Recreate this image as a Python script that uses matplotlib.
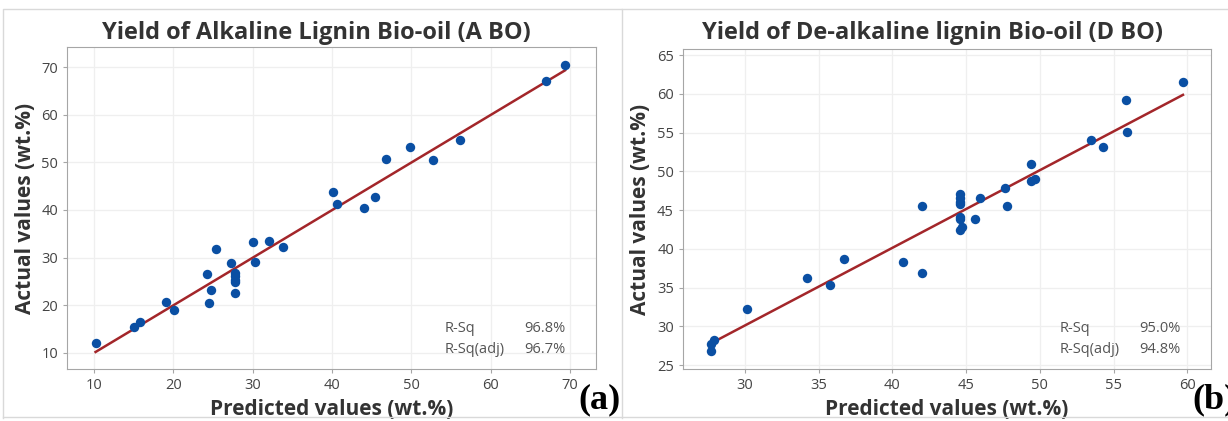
import numpy as np
import matplotlib.pyplot as plt
from matplotlib.lines import Line2D

# (a) alkaline lignin bio-oil
pred_a = [10.2, 15.0, 15.8, 19.1, 20.1, 24.3, 24.5, 24.8, 25.4, 27.3, 27.8, 27.8,
          27.8, 27.8, 27.8, 30.1, 30.3, 32.1, 33.8, 40.2, 40.7, 44.0, 45.4, 46.8,
          49.8, 52.7, 56.2, 67.0, 69.4]
act_a = [12.0, 15.4, 16.5, 20.6, 19.0, 26.6, 20.5, 23.2, 31.7, 28.8, 26.8, 26.1,
         25.3, 24.8, 22.5, 33.3, 29.0, 33.5, 32.2, 43.7, 41.2, 40.5, 42.8, 50.6,
         53.3, 50.4, 54.7, 67.0, 70.4]

# (b) de-alkaline lignin bio-oil
pred_b = [27.7, 27.7, 27.9, 30.15, 34.2, 35.8, 36.7, 40.7, 42.0, 42.0, 44.55, 44.55,
          44.55, 44.55, 44.55, 44.55, 44.55, 44.75, 45.6, 45.95, 47.65, 47.8, 49.4,
          49.4, 49.65, 53.45, 54.25, 55.85, 55.9, 59.7]
act_b = [26.8, 27.7, 28.3, 32.3, 36.2, 35.4, 38.7, 38.3, 45.5, 36.9, 47.1, 46.6,
         46.1, 45.8, 44.1, 43.9, 42.5, 42.8, 43.8, 46.6, 47.8, 45.6, 51.0, 48.8,
         49.0, 54.0, 53.1, 59.2, 55.1, 61.5]

titles = ["Yield of Alkaline Lignin Bio-oil (A BO)", "Yield of De-alkaline lignin Bio-oil (D BO)"]
rsq = [("96.8%", "96.7%"), ("95.0%", "94.8%")]
tags = ["(a)", "(b)"]

W, H = 1228, 421
fig = plt.figure(figsize=(W / 100, H / 100), dpi=100)
plt.rcParams['font.family'] = ['Open Sans', 'DejaVu Sans']

# panel frames
for xs, ys in [([3, 3, 622, 622], [418, 9, 9, 418]), ([622, 1228], [9, 9]), ([3, 1228], [417, 417])]:
    fig.add_artist(Line2D([x / W for x in xs], [1 - y / H for y in ys], color="#d9d9d9", lw=1))


def panel(box, x, y, xlim, ylim, xt, yt, title, r, tag, title_x, tag_x):
    l, t, r_, b = box
    ax = fig.add_axes([l / W, 1 - b / H, (r_ - l) / W, (b - t) / H])
    ax.grid(True, color="#efefef", lw=0.9)
    ax.set_axisbelow(True)
    k, c = np.polyfit(x, y, 1)
    xx = np.array([min(x), max(x)])
    ax.plot(xx, k * xx + c, color="#a3262a", lw=1.8, zorder=2)
    ax.scatter(x, y, s=46, color="#0a4fa3", zorder=3, linewidths=0)
    ax.set_xlim(xlim)
    ax.set_ylim(ylim)
    ax.set_xticks(xt)
    ax.set_yticks(yt)
    for s in ax.spines.values():
        s.set_color("#a6a6a6")
    ax.tick_params(colors="#a6a6a6", labelcolor="#444444", labelsize=10.5, length=3)
    ax.set_xlabel("Predicted values (wt.%)", fontsize=15, fontweight="bold", color="#333333", labelpad=4)
    ax.set_ylabel("Actual values (wt.%)", fontsize=15, fontweight="bold", color="#333333", labelpad=4)
    fig.text(title_x / W, 1 - 33 / H, title, ha="center", va="center", fontsize=17,
             fontweight="bold", color="#333333")
    for yy, lab, val in [(0.127, "R-Sq", r[0]), (0.062, "R-Sq(adj)", r[1])]:
        ax.text(0.714, yy, lab, transform=ax.transAxes, fontsize=10.5, color="#555555", va="center")
        ax.text(0.943, yy, val, transform=ax.transAxes, fontsize=10.5, color="#555555",
                va="center", ha="right")
    fig.text(tag_x / W, 1 - 400 / H, tag, ha="center", va="center", fontsize=26,
             fontweight="bold", family="Liberation Serif", color="black")
    return ax


panel((67, 47, 596, 369), pred_a, act_a, (6.6, 73.3), (6.6, 74.2),
      [10, 20, 30, 40, 50, 60, 70], [10, 20, 30, 40, 50, 60, 70],
      titles[0], rsq[0], tags[0], 316, 599)
panel((683, 49, 1211, 369), pred_b, act_b, (25.8, 61.6), (24.5, 65.8),
      [30, 35, 40, 45, 50, 55, 60], [25, 30, 35, 40, 45, 50, 55, 60, 65],
      titles[1], rsq[1], tags[1], 932, 1214)

fig.savefig("out.png", dpi=100)
